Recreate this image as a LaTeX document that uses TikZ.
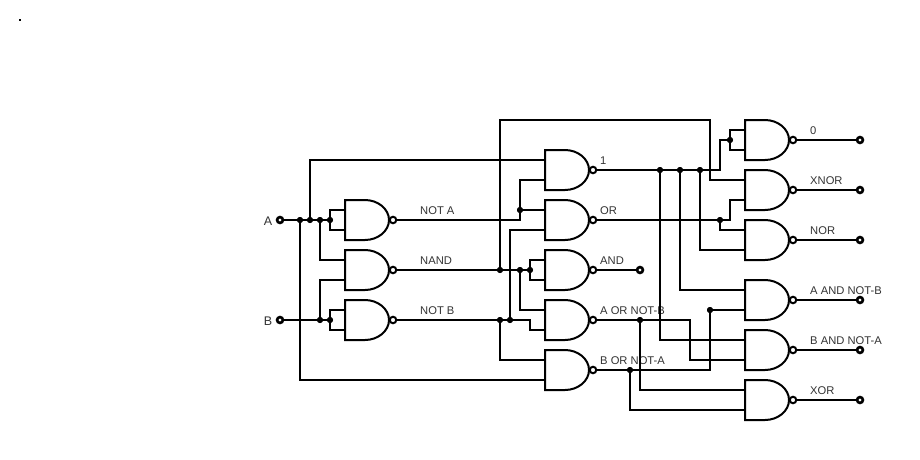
\documentclass[tikz,border=0pt]{standalone}
\usepackage{fontspec}
\setmainfont{Liberation Sans}
\definecolor{lab}{HTML}{333333}
\tikzset{
  wire/.style={line width=2pt,line join=miter,draw=black},
  dotj/.style={circle,fill=black,inner sep=0pt,minimum size=6pt},
  term/.style={circle,draw=black,fill=white,line width=2pt,inner sep=0pt,minimum size=6.5pt},
  lbl/.style={anchor=west,inner sep=0pt,text=lab,font=\fontsize{11.2}{13}\selectfont},
  lblbig/.style={anchor=east,inner sep=0pt,text=lab,font=\fontsize{12.5}{14}\selectfont},
  nandgate/.pic={
    \draw[line width=2pt,line join=miter] (0,-20) -- (20,-20) .. controls (33,-20) and (44,-11) .. (44,0)
      .. controls (44,11) and (33,20) .. (20,20) -- (0,20) -- cycle;
    \node[circle,draw=black,fill=white,line width=2pt,inner sep=0pt,minimum size=6.5pt] at (48,0) {};
    \coordinate (-a) at (0,-10);
    \coordinate (-b) at (0,10);
    \coordinate (-o) at (51,0);
  }
}
\begin{document}
\begin{tikzpicture}[x=1pt,y=-1pt]
\useasboundingbox (0,0) rectangle (920,460);
\fill[black] (19,19) rectangle (21,21);
% labels
\node[lblbig] (lA) at (272.5,220.7) {A};
\node[lblbig] (lB) at (272.5,320.7) {B};
\node[lbl] (l1) at (420,210.7) {NOT A};
\node[lbl] (l2) at (420,260.7) {NAND};
\node[lbl] (l3) at (420,310.7) {NOT B};
\node[lbl] (l4) at (600,160.7) {1};
\node[lbl] (l5) at (600,210.7) {OR};
\node[lbl] (l6) at (600,260.7) {AND};
\node[lbl] (l7) at (600,310.7) {A OR NOT-B};
\node[lbl] (l8) at (600,360.7) {B OR NOT-A};
\node[lbl] (l9) at (810,130.7) {0};
\node[lbl] (l10) at (810,180.7) {XNOR};
\node[lbl] (l11) at (810,230.7) {NOR};
\node[lbl] (l12) at (810,290.7) {A AND NOT-B};
\node[lbl] (l13) at (810,340.7) {B AND NOT-A};
\node[lbl] (l14) at (810,390.7) {XOR};
% junctions
\foreach \n/\x/\y in {a1/300/220,a2/310/220,a3/320/220,a4/330/220,
  b1/320/320,b2/330/320,
  na/520/210,
  c1/500/270,c2/520/270,c3/530/270,
  d1/500/320,d2/510/320,
  e1/660/170,e2/680/170,e3/700/170,e4/730/140,
  f1/720/220,
  g1/640/320,g2/630/370,g3/710/310}
  {\node[dotj] (\n) at (\x,\y) {};}
% gates
\pic (n1) at (345,220) {nandgate};
\pic (n2) at (345,270) {nandgate};
\pic (n3) at (345,320) {nandgate};
\pic (m1) at (545,170) {nandgate};
\pic (m2) at (545,220) {nandgate};
\pic (m3) at (545,270) {nandgate};
\pic (m4) at (545,320) {nandgate};
\pic (m5) at (545,370) {nandgate};
\pic (r1) at (745,140) {nandgate};
\pic (r2) at (745,190) {nandgate};
\pic (r3) at (745,240) {nandgate};
\pic (r4) at (745,300) {nandgate};
\pic (r5) at (745,350) {nandgate};
\pic (r6) at (745,400) {nandgate};
% terminals
\node[term] (ta) at (280,220) {};
\node[term] (tb) at (280,320) {};
\node[term] (t3) at (640,270) {};
\node[term] (t1) at (860,140) {};
\node[term] (t2) at (860,190) {};
\node[term] (t4) at (860,240) {};
\node[term] (t5) at (860,300) {};
\node[term] (t6) at (860,350) {};
\node[term] (t7) at (860,400) {};
% helper corners
\coordinate (k1) at (520,220);
\coordinate (k2) at (530,320);
\coordinate (k3) at (500,120);
\coordinate (k4) at (710,120);
\coordinate (k5) at (720,170);
\coordinate (k6) at (730,220);
\coordinate (k7) at (690,320);
\coordinate (k8) at (710,370);
% wires
\draw[wire] (ta) -- (a4.center);
\draw[wire] (a4.center) -- (a4.center |- n1-a) -- (n1-a);
\draw[wire] (a4.center) -- (a4.center |- n1-b) -- (n1-b);
\draw[wire] (a2.center) |- (m1-a);
\draw[wire] (a3.center) |- (n2-a);
\draw[wire] (a1.center) |- (m5-b);
\draw[wire] (tb) -- (b2.center);
\draw[wire] (b1.center) |- (n2-b);
\draw[wire] (b2.center) -- (b2.center |- n3-a) -- (n3-a);
\draw[wire] (b2.center) -- (b2.center |- n3-b) -- (n3-b);
\draw[wire] (n1-o) -- (k1) |- (m1-b);
\draw[wire] (na.center) -- (m2-a);
\draw[wire] (n2-o) -- (c3.center);
\draw[wire] (c1.center) -- (k3) -- (k4) |- (r2-a);
\draw[wire] (c2.center) |- (m4-a);
\draw[wire] (c3.center) -- (c3.center |- m3-a) -- (m3-a);
\draw[wire] (c3.center) -- (c3.center |- m3-b) -- (m3-b);
\draw[wire] (n3-o) -- (k2) |- (m4-b);
\draw[wire] (d1.center) |- (m5-a);
\draw[wire] (d2.center) |- (m2-b);
\draw[wire] (m1-o) -- (k5) |- (e4.center);
\draw[wire] (e4.center) -- (e4.center |- r1-a) -- (r1-a);
\draw[wire] (e4.center) -- (e4.center |- r1-b) -- (r1-b);
\draw[wire] (e1.center) |- (r5-a);
\draw[wire] (e2.center) |- (r4-a);
\draw[wire] (e3.center) |- (r3-b);
\draw[wire] (m2-o) -- (k6) |- (r2-b);
\draw[wire] (f1.center) |- (r3-a);
\draw[wire] (m3-o) -- (t3);
\draw[wire] (m4-o) -- (k7) |- (r5-b);
\draw[wire] (g1.center) |- (r6-a);
\draw[wire] (m5-o) -- (k8) -- (g3.center) -- (r4-b);
\draw[wire] (g2.center) |- (r6-b);
\draw[wire] (r1-o) -- (t1);
\draw[wire] (r2-o) -- (t2);
\draw[wire] (r3-o) -- (t4);
\draw[wire] (r4-o) -- (t5);
\draw[wire] (r5-o) -- (t6);
\draw[wire] (r6-o) -- (t7);
% redraw junction dots and terminals on top
\foreach \n in {a1,a2,a3,a4,b1,b2,na,c1,c2,c3,d1,d2,e1,e2,e3,e4,f1,g1,g2,g3}
  {\fill[black] (\n.center) circle (3pt);}
\foreach \n in {ta,tb,t3,t1,t2,t4,t5,t6,t7}
  {\draw[line width=2pt,fill=white] (\n.center) circle (2.6pt);}
\end{tikzpicture}
\end{document}
